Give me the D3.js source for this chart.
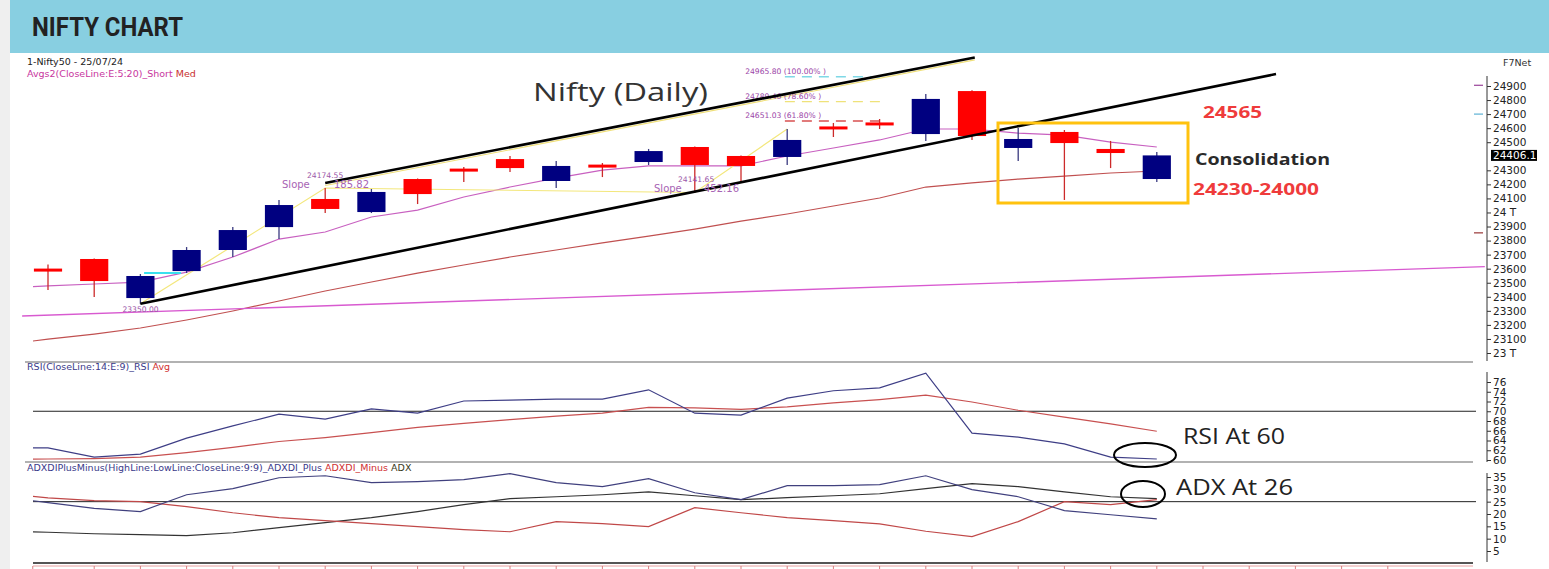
<!DOCTYPE html>
<html><head><meta charset="utf-8">
<script src="https://cdn.jsdelivr.net/npm/d3@7"></script>
<style>
html,body{margin:0;padding:0;background:#fff;overflow:hidden;}
svg{display:block;}
</style></head><body>
<svg id="c" width="1549" height="569"></svg>
<script>
// ---------- DATA ----------
const dates = ["20/06","21/06","24/06","25/06","26/06","27/06","28/06","01/07","02/07","03/07","04/07","05/07","08/07","09/07","10/07","11/07","12/07","15/07","16/07","18/07","19/07","22/07","23/07","24/07","25/07"];
const openV  = [23600,23669,23391,23583,23733,23896,24096,24003,24238,24305,24380,24224,24335,24359,24466,24402,24395,24605,24634,24558,24864,24459,24573,24452,24238];
const highV  = [23630,23672,23562,23754,23896,24089,24174,24167,24242,24323,24402,24366,24352,24452,24470,24405,24594,24637,24665,24843,24870,24601,24587,24509,24430];
const lowV   = [23448,23398,23350,23569,23683,23811,23996,23996,24060,24217,24288,24174,24252,24338,24142,24210,24338,24537,24594,24509,24516,24366,24089,24316,24217];
const closeV = [23580,23512,23548,23733,23875,24053,24025,24146,24131,24298,24316,24331,24325,24437,24338,24331,24516,24598,24626,24808,24544,24523,24494,24423,24406.1];

// indicator series start one session earlier (19/06) than the first candle
const emaShort = [23462,23477,23491,23505,23576,23683,23811,23861,23968,24017,24110,24181,24245,24302,24331,24331,24331,24402,24459,24516,24594,24594,24565,24551,24501,24466];
const emaMed   = [23057,23099,23135,23178,23235,23299,23370,23441,23505,23569,23626,23683,23733,23783,23832,23882,23939,23989,24046,24103,24181,24210,24238,24259,24281,24295];
const rsi      = [62.4,62.5,60.6,61.2,64.5,67.0,69.4,68.4,70.5,69.6,72.1,72.3,72.5,72.5,74.4,69.6,69.2,72.7,74.2,74.8,77.8,65.5,64.7,63.3,60.6,60.2];
const rsiAvg   = [60.1,60.2,60.3,60.6,61.5,62.6,63.8,64.6,65.6,66.7,67.5,68.3,69.0,69.6,70.8,70.7,70.4,70.9,71.7,72.4,73.3,71.9,70.2,68.8,67.4,65.9];
const diPlus   = [27.0,24.6,22.3,21.0,27.8,30.3,34.7,35.5,32.7,33.1,33.9,36.4,32.7,31.1,34.3,28.6,25.8,31.5,31.5,31.9,35.5,29.9,27.0,21.4,19.7,18.0];
const diMinus  = [28.5,26.5,25.4,25.0,23.0,20.5,18.5,17.3,16.1,14.9,13.7,12.8,16.9,16.1,14.9,22.6,20.5,18.5,17.3,16.0,13.0,10.8,16.9,25.0,23.8,25.8];
const adx      = [13.1,12.6,12.0,11.6,11.2,12.4,14.5,16.5,18.5,21.0,23.8,26.2,27.0,27.8,29.0,27.4,25.8,26.6,27.4,28.2,30.3,32.3,31.1,29.0,27.0,26.2];

// drawn lines: [candle index, price]
const longTrend    = [[-0.56,23263],[31.1,23615]];
const channelLower = [[2,23350],[26.58,24985]];
const channelUpper = [[6,24210],[20.06,25103]];
const upperShadow  = [[6,24192],[20.06,25086]];
const swingPath    = [[2,23350],[6,24174],[14,24142],[16,24594]];
const zeroLevel    = [[2.08,23569],[2.88,23569]];
const fibValues = [24965.80, 24789.46, 24651.03];
const fibLabels = ["24965.80 (100.00% )","24789.46 (78.60% )","24651.03 (61.80% )"];
const fibColors = ["#7fd8e6","#efe27a","#d85050"];
const priceTicks = [24900,24800,24700,24600,24500,24300,24200,24100,24000,23900,23800,23700,23600,23500,23400,23300,23200,23100,23000];
const rsiTicks = [60,62,64,66,68,70,72,74,76];
const adxTicks = [5,10,15,20,25,30,35];
const axisMarkers = [[24905,"#a050a0"],[24700,"#6ab8d8"],[23855,"#a04545"]];
const lastPrice = 24406.1;

// ---------- SETUP ----------
const svg = d3.select("#c");
const W = 1549, H = 569;
const FS = "DejaVu Sans, Verdana, sans-serif";
const x  = d3.scaleLinear().domain([0,24]).range([48,1156.8]);
const yP = d3.scaleLinear().domain([23000,24900]).range([353,86]);
const yR = d3.scaleLinear().domain([60,76]).range([460,382]);
const yA = d3.scaleLinear().domain([5,35]).range([551,477]);
const step = x(1)-x(0);

svg.append("rect").attr("width",W).attr("height",H).attr("fill","#fff");
svg.append("rect").attr("x",0).attr("y",0).attr("width",10).attr("height",H).attr("fill","#efefef");
svg.append("rect").attr("x",10).attr("y",0).attr("width",W-10).attr("height",53).attr("fill","#88cfe1");
svg.append("text").attr("x",32).attr("y",36).attr("font-family","Roboto, sans-serif").attr("font-weight","bold")
  .attr("font-size",25).attr("fill","#222").attr("textLength",151).attr("lengthAdjust","spacingAndGlyphs").text("NIFTY CHART");

const defs = svg.append("defs");
function clip(id,x0,y0,x1,y1){defs.append("clipPath").attr("id",id).append("rect").attr("x",x0).attr("y",y0).attr("width",x1-x0).attr("height",y1-y0);}
clip("cp",33,55,1476,361);
clip("cr",33,363,1476,461);
clip("ca",33,463,1476,562);

// header texts
svg.append("text").attr("x",27).attr("y",65).attr("font-family",FS).attr("font-size",9.5).attr("fill","#222").text("1-Nifty50 - 25/07/24");
const avgT = svg.append("text").attr("x",27).attr("y",77).attr("font-family",FS).attr("font-size",9.5);
avgT.append("tspan").attr("fill","#c8369e").text("Avgs2(CloseLine:E:5:20)_Short ");
avgT.append("tspan").attr("fill","#c83030").text("Med");
svg.append("text").attr("x",1503).attr("y",66).attr("font-family",FS).attr("font-size",9.5).attr("fill","#333").text("F7Net");

// ---------- PRICE PANEL ----------
const gp = svg.append("g");
const gpc = gp.append("g").attr("clip-path","url(#cp)");
const segLine = d3.line().x(d=>x(d[0])).y(d=>yP(d[1]));
const serLine = (sc)=>d3.line().x((d,k)=>x(k-1)).y(d=>sc(d));

gp.append("path").attr("d",segLine(longTrend)).attr("fill","none").attr("stroke","#d85ad0").attr("stroke-width",1.4);
gpc.append("path").attr("d",serLine(yP)(emaMed)).attr("fill","none").attr("stroke","#c05050").attr("stroke-width",1.2);
gpc.append("path").attr("d",serLine(yP)(emaShort)).attr("fill","none").attr("stroke","#c860c0").attr("stroke-width",1.2);
gp.append("path").attr("d",segLine(upperShadow)).attr("fill","none").attr("stroke","#f0e07a").attr("stroke-width",1.2);
gp.append("path").attr("d",segLine(swingPath)).attr("fill","none").attr("stroke","#f3e77c").attr("stroke-width",1.2);
gp.append("path").attr("d",segLine(zeroLevel)).attr("fill","none").attr("stroke","#3ae0ee").attr("stroke-width",2);

// fib levels
fibValues.forEach((v,k)=>{
  gp.append("line").attr("x1",x(15.95)).attr("x2",x(18.05)).attr("y1",yP(v)).attr("y2",yP(v))
    .attr("stroke",fibColors[k]).attr("stroke-width",1.3).attr("stroke-dasharray","10,7");
  gp.append("text").attr("x",x(15.09)).attr("y",yP(v)-3).attr("font-family",FS).attr("font-size",7.6)
    .attr("fill","#9b45a8").text(fibLabels[k]);
});

// candles
const idx = d3.range(dates.length);
const up = i => closeV[i] >= openV[i];
gp.append("g").selectAll("line").data(idx).join("line")
  .attr("x1",i=>x(i)).attr("x2",i=>x(i)).attr("y1",i=>yP(highV[i])).attr("y2",i=>yP(lowV[i]))
  .attr("stroke",i=>up(i)?"#3a3a80":"#cc2a2a").attr("stroke-width",1.3);
gp.append("g").selectAll("rect").data(idx).join("rect")
  .attr("x",i=>x(i)-step*0.305).attr("width",step*0.61)
  .attr("y",i=>{const a=yP(Math.max(openV[i],closeV[i])),b=yP(Math.min(openV[i],closeV[i]));return (b-a)<3?(a+b)/2-1.5:a;})
  .attr("height",i=>Math.max(3,yP(Math.min(openV[i],closeV[i]))-yP(Math.max(openV[i],closeV[i]))))
  .attr("fill",i=>up(i)?"#000080":"#ff0000");

// channel lines
gp.append("path").attr("d",segLine(channelLower)).attr("fill","none").attr("stroke","#000").attr("stroke-width",2.6);
gp.append("path").attr("d",segLine(channelUpper)).attr("fill","none").attr("stroke","#000").attr("stroke-width",2.6);

// small labels
const small = (tx,xx,yy,fs,col)=>gp.append("text").attr("x",xx).attr("y",yy).attr("font-family",FS).attr("font-size",fs).attr("fill",col).text(tx);
small("23350.00", x(2)-18, yP(23350)+8, 7.6, "#9b55a8");
small("Slope", 282, 188, 10, "#a764b4");
small("185.82", 334, 188, 10, "#a764b4");
small("24174.55", 307, 178, 7.6, "#9b55a8");
small("Slope", 654, 192, 10, "#a764b4");
small("452.16", 704, 192, 10, "#a764b4");
small("24141.65", 678, 182, 7.6, "#9b55a8");

gp.append("text").attr("x",533).attr("y",101).attr("font-family","Open Sans, sans-serif").attr("font-size",25)
  .attr("fill","#333").attr("textLength",175).attr("lengthAdjust","spacingAndGlyphs").text("Nifty (Daily)");

// consolidation box + notes
gp.append("rect").attr("x",998).attr("y",123).attr("width",190).attr("height",80)
  .attr("fill","none").attr("stroke","#ffc20e").attr("stroke-width",3);
const note=(tx,xx,yy,col,tl)=>gp.append("text").attr("x",xx).attr("y",yy).attr("font-family","Open Sans, sans-serif")
  .attr("font-weight","bold").attr("font-size",16).attr("fill",col).attr("textLength",tl).attr("lengthAdjust","spacingAndGlyphs").text(tx);
note("24565",1203,118,"#ef3b3b",59);
note("Consolidation",1195,165,"#2a2a2a",135);
note("24230-24000",1193,195,"#ef3b3b",126);

// price axis
svg.append("line").attr("x1",1487).attr("x2",1487).attr("y1",76).attr("y2",361).attr("stroke","#333");
const ax = d3.axisRight(yP).tickValues(priceTicks).tickSize(4).tickPadding(2)
  .tickFormat(v=> v%1000===0 ? (v/1000)+" T" : String(v));
const gax = svg.append("g").attr("transform","translate(1487,0)").call(ax);
gax.select(".domain").remove();
gax.selectAll("line").attr("stroke","#333");
gax.selectAll("text").attr("font-family",FS).attr("font-size",10.5).attr("fill","#222");
axisMarkers.forEach(m=>svg.append("line").attr("x1",1474).attr("x2",1483).attr("y1",yP(m[0])).attr("y2",yP(m[0])).attr("stroke",m[1]).attr("stroke-width",1.3));
svg.append("rect").attr("x",1491).attr("y",yP(lastPrice)-5.5).attr("width",46).attr("height",11).attr("fill","#000");
svg.append("text").attr("x",1493).attr("y",yP(lastPrice)+4).attr("font-family",FS).attr("font-size",10.5).attr("fill","#fff").text(String(lastPrice));

// separators
svg.append("line").attr("x1",25).attr("x2",1473).attr("y1",362).attr("y2",362).attr("stroke","#999").attr("stroke-width",1.5);
svg.append("line").attr("x1",25).attr("x2",1473).attr("y1",462).attr("y2",462).attr("stroke","#999").attr("stroke-width",1.5);
svg.append("line").attr("x1",33).attr("x2",1473).attr("y1",563).attr("y2",563).attr("stroke","#555").attr("stroke-width",2);

// ---------- RSI PANEL ----------
const rl = svg.append("text").attr("x",27).attr("y",370).attr("font-family",FS).attr("font-size",9.5);
rl.append("tspan").attr("fill","#3a3a8a").text("RSI(CloseLine:14:E:9)_RSI ");
rl.append("tspan").attr("fill","#d03030").text("Avg");
svg.append("line").attr("x1",33).attr("x2",1476).attr("y1",yR(70)).attr("y2",yR(70)).attr("stroke","#222").attr("stroke-width",1);
const grc = svg.append("g").attr("clip-path","url(#cr)");
grc.append("path").attr("d",serLine(yR)(rsiAvg)).attr("fill","none").attr("stroke","#c85050").attr("stroke-width",1.2);
grc.append("path").attr("d",serLine(yR)(rsi)).attr("fill","none").attr("stroke","#3e3e86").attr("stroke-width",1.2);
svg.append("line").attr("x1",1487).attr("x2",1487).attr("y1",372).attr("y2",462).attr("stroke","#333");
const gr = svg.append("g").attr("transform","translate(1487,0)").call(d3.axisRight(yR).tickValues(rsiTicks).tickSize(4).tickPadding(2));
gr.select(".domain").remove();
gr.selectAll("line").attr("stroke","#333");
gr.selectAll("text").attr("font-family",FS).attr("font-size",10.5).attr("fill","#222");
svg.append("ellipse").attr("cx",1145).attr("cy",455).attr("rx",31).attr("ry",12).attr("fill","none").attr("stroke","#000").attr("stroke-width",2);
svg.append("text").attr("x",1183).attr("y",444).attr("font-family","Open Sans, sans-serif").attr("font-size",21).attr("fill","#222")
  .attr("textLength",102).attr("lengthAdjust","spacingAndGlyphs").text("RSI At 60");

// ---------- ADX PANEL ----------
const al = svg.append("text").attr("x",27).attr("y",471).attr("font-family",FS).attr("font-size",9.5);
al.append("tspan").attr("fill","#3a3a8a").text("ADXDIPlusMinus(HighLine:LowLine:CloseLine:9:9)_ADXDI_Plus ");
al.append("tspan").attr("fill","#d03030").text("ADXDI_Minus ");
al.append("tspan").attr("fill","#3a3a20").text("ADX");
svg.append("line").attr("x1",33).attr("x2",1476).attr("y1",yA(25)).attr("y2",yA(25)).attr("stroke","#222").attr("stroke-width",1);
const gac = svg.append("g").attr("clip-path","url(#ca)");
gac.append("path").attr("d",serLine(yA)(adx)).attr("fill","none").attr("stroke","#333").attr("stroke-width",1.2);
gac.append("path").attr("d",serLine(yA)(diMinus)).attr("fill","none").attr("stroke","#c04848").attr("stroke-width",1.2);
gac.append("path").attr("d",serLine(yA)(diPlus)).attr("fill","none").attr("stroke","#40407e").attr("stroke-width",1.2);
svg.append("line").attr("x1",1487).attr("x2",1487).attr("y1",473).attr("y2",562).attr("stroke","#333");
const ga = svg.append("g").attr("transform","translate(1487,0)").call(d3.axisRight(yA).tickValues(adxTicks).tickSize(4).tickPadding(2));
ga.select(".domain").remove();
ga.selectAll("line").attr("stroke","#333");
ga.selectAll("text").attr("font-family",FS).attr("font-size",10.5).attr("fill","#222");
svg.append("ellipse").attr("cx",1143).attr("cy",494).attr("rx",22).attr("ry",13).attr("fill","none").attr("stroke","#000").attr("stroke-width",2);
svg.append("text").attr("x",1176).attr("y",495).attr("font-family","Open Sans, sans-serif").attr("font-size",21).attr("fill","#222")
  .attr("textLength",117).attr("lengthAdjust","spacingAndGlyphs").text("ADX At 26");

// bottom date axis (ticks only visible)
svg.append("line").attr("x1",33).attr("x2",1473).attr("y1",566).attr("y2",566).attr("stroke","#e8a0a0").attr("stroke-width",1);
svg.append("g").selectAll("line").data([-0.33].concat(d3.range(1,30))).join("line")
  .attr("x1",i=>x(i)).attr("x2",i=>x(i)).attr("y1",566).attr("y2",569).attr("stroke","#d88080");
</script>
</body></html>
